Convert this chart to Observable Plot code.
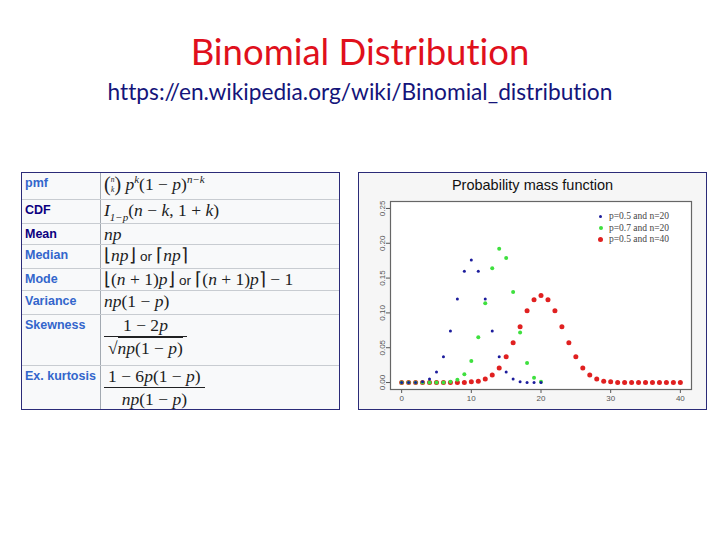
<!DOCTYPE html>
<html><head><meta charset="utf-8">
<script src="https://cdn.jsdelivr.net/npm/d3@7"></script>
<script src="https://cdn.jsdelivr.net/npm/@observablehq/plot@0.6"></script>
<style>
html,body{margin:0;padding:0;background:#fff;}
body{width:720px;height:540px;position:relative;overflow:hidden;font-family:Lato,"Open Sans",sans-serif;font-variant-ligatures:none;}
#title{position:absolute;left:0;width:720px;top:29px;text-align:center;font-family:Lato,sans-serif;font-size:36.5px;color:#e0101c;line-height:44px;}
#url{position:absolute;left:0;width:720px;top:78px;text-align:center;font-family:Lato,sans-serif;font-size:22.7px;color:#14147a;line-height:28px;}
#tbl{position:absolute;left:21px;top:172px;width:317px;height:236px;border:1px solid #2b2b78;background:#f8f9fa;overflow:hidden;}
#tbl table{border-collapse:collapse;width:100%;table-layout:fixed;}
#tbl td{border-bottom:1px solid #c8ccd1;padding:0 0 0 3px;vertical-align:top;}
#tbl tr:last-child td{border-bottom:none;}
#tbl td.l{width:75px;border-right:1px solid #a2a9b1;font-family:"Liberation Sans",Arial,sans-serif;font-weight:bold;font-size:12.5px;line-height:15px;color:#3366cc;padding-top:3px;}
#tbl td.l.v{color:#0b0080;}
#tbl td.f{font-family:"Liberation Serif",serif;font-style:italic;font-size:17.5px;line-height:19px;color:#202122;padding-top:1px;padding-left:3px;white-space:nowrap;}
.up{font-style:normal;}
.or{font-family:"Liberation Sans",sans-serif;font-style:normal;font-size:13.5px;}
.frac{display:inline-block;text-align:center;vertical-align:top;}
.frac .n{display:block;padding:0 4px 1px;border-bottom:1px solid #202122;}
.frac .d{display:block;padding:2px 4px 0;}
.binom{display:inline-flex;flex-direction:column;vertical-align:middle;font-size:7.5px;line-height:10px;text-align:center;margin-top:-2px;}
.bp{font-style:normal;font-size:20px;line-height:1;vertical-align:-1px;}
sup,sub{font-size:11px;line-height:0;}
#chartbox{position:absolute;left:358px;top:172px;width:347px;height:236px;border:1px solid #2b2b78;background:#f6f6f6;}
#ctitle{position:absolute;left:358px;width:349px;top:177px;text-align:center;font-family:"Liberation Sans",Arial,sans-serif;font-size:14.5px;color:#111;}
#plot{position:absolute;left:359px;top:195px;}
#legend{position:absolute;left:598px;top:211px;font-family:"Liberation Serif",serif;font-size:9.5px;color:#444;line-height:11.5px;}
#legend span.d{display:inline-block;border-radius:50%;margin-right:6px;vertical-align:middle;}
</style></head>
<body>
<div id="title">Binomial Distribution</div>
<div id="url">https://en.wikipedia.org/wiki/Binomial_distribution</div>

<div id="tbl"><table>
<tr style="height:26px"><td class="l">pmf</td><td class="f"><span class="bp">(</span><span class="binom"><span>n</span><span>k</span></span><span class="bp">)</span> p<sup>k</sup><span class="up">(1 − </span>p<span class="up">)</span><sup>n−k</sup></td></tr>
<tr style="height:24px"><td class="l v">CDF</td><td class="f">I<sub>1−p</sub><span class="up">(</span>n<span class="up"> − </span>k<span class="up">, 1 + </span>k<span class="up">)</span></td></tr>
<tr style="height:21px"><td class="l v">Mean</td><td class="f">np</td></tr>
<tr style="height:24px"><td class="l">Median</td><td class="f"><span class="up">⌊</span>np<span class="up">⌋</span> <span class="or">or</span> <span class="up">⌈</span>np<span class="up">⌉</span></td></tr>
<tr style="height:21px"><td class="l">Mode</td><td class="f"><span class="up">⌊(</span>n<span class="up"> + 1)</span>p<span class="up">⌋</span> <span class="or">or</span> <span class="up">⌈(</span>n<span class="up"> + 1)</span>p<span class="up">⌉ − 1</span></td></tr>
<tr style="height:24px"><td class="l">Variance</td><td class="f">np<span class="up">(1 − </span>p<span class="up">)</span></td></tr>
<tr style="height:51px"><td class="l">Skewness</td><td class="f"><span class="frac"><span class="n"><span class="up">1 − 2</span>p</span><span class="d"><span class="up">√</span><span style="border-top:1px solid #202122">np<span class="up">(1 − </span>p<span class="up">)</span></span></span></span></td></tr>
<tr style="height:46px"><td class="l">Ex. kurtosis</td><td class="f"><span class="frac"><span class="n"><span class="up">1 − 6</span>p<span class="up">(1 − </span>p<span class="up">)</span></span><span class="d">np<span class="up">(1 − </span>p<span class="up">)</span></span></span></td></tr>
</table></div>

<div id="chartbox"></div>
<div id="ctitle">Probability mass function</div>
<div id="plot"></div>
<div id="legend">
<div><span class="d" style="width:3px;height:3px;background:#1c1c9c;margin-left:1px;margin-right:7px"></span>p=0.5 and n=20</div>
<div><span class="d" style="width:4px;height:4px;background:#3ee03e;margin-left:0.5px;margin-right:6.5px"></span>p=0.7 and n=20</div>
<div><span class="d" style="width:5px;height:5px;background:#e02020"></span>p=0.5 and n=40</div>
</div>

<script>
// k = 0..20 for n=20, k = 0..40 for n=40
const kBlue = d3.range(0, 21);
const blueP = [0.000, 0.000, 0.000, 0.001, 0.005, 0.015, 0.037, 0.074, 0.120, 0.160, 0.176, 0.160, 0.120, 0.074, 0.037, 0.015, 0.005, 0.001, 0.000, 0.000, 0.000];
const kGreen = d3.range(0, 21);
const greenP = [0.000, 0.000, 0.000, 0.000, 0.000, 0.000, 0.000, 0.001, 0.004, 0.012, 0.031, 0.065, 0.114, 0.164, 0.192, 0.179, 0.130, 0.072, 0.028, 0.007, 0.001];
const kRed = d3.range(0, 41);
const redP = [0.000, 0.000, 0.000, 0.000, 0.000, 0.000, 0.000, 0.000, 0.000, 0.000, 0.001, 0.002, 0.005, 0.011, 0.021, 0.037, 0.057, 0.080, 0.103, 0.119, 0.125, 0.119, 0.103, 0.080, 0.057, 0.037, 0.021, 0.011, 0.005, 0.002, 0.001, 0.000, 0.000, 0.000, 0.000, 0.000, 0.000, 0.000, 0.000, 0.000, 0.000];
const xTicks = [0, 10, 20, 30, 40];
const yTicks = [0.00, 0.05, 0.10, 0.15, 0.20, 0.25];

const blue = kBlue.map((k, i) => ({k, p: blueP[i]}));
const green = kGreen.map((k, i) => ({k, p: greenP[i]}));
const red = kRed.map((k, i) => ({k, p: redP[i]}));

const chart = Plot.plot({
  width: 346, height: 214,
  marginLeft: 31, marginRight: 14, marginTop: 6, marginBottom: 20,
  style: {background: "transparent", fontFamily: "'Liberation Sans', Arial, sans-serif", fontSize: "8px", color: "#555"},
  x: {domain: [-1.6, 41.6], ticks: xTicks, tickFormat: d => d, label: null, tickSize: 4, tickPadding: 2},
  y: {domain: [-0.01, 0.26], ticks: yTicks, tickFormat: d3.format(".2f"), label: null, tickSize: 4, tickPadding: 2, tickRotate: -90},
  marks: [
    Plot.frame({fill: "white", stroke: "none"}),
    Plot.dot(red, {x: "k", y: "p", r: 2.5, fill: "#e02020", stroke: "none"}),
    Plot.dot(green, {x: "k", y: "p", r: 2, fill: "#3ee03e", stroke: "none"}),
    Plot.dot(blue, {x: "k", y: "p", r: 1.5, fill: "#1c1c9c", stroke: "none"}),
    Plot.frame({stroke: "#666", strokeWidth: 1.2})
  ]
});
document.getElementById("plot").append(chart);
</script>
</body></html>
